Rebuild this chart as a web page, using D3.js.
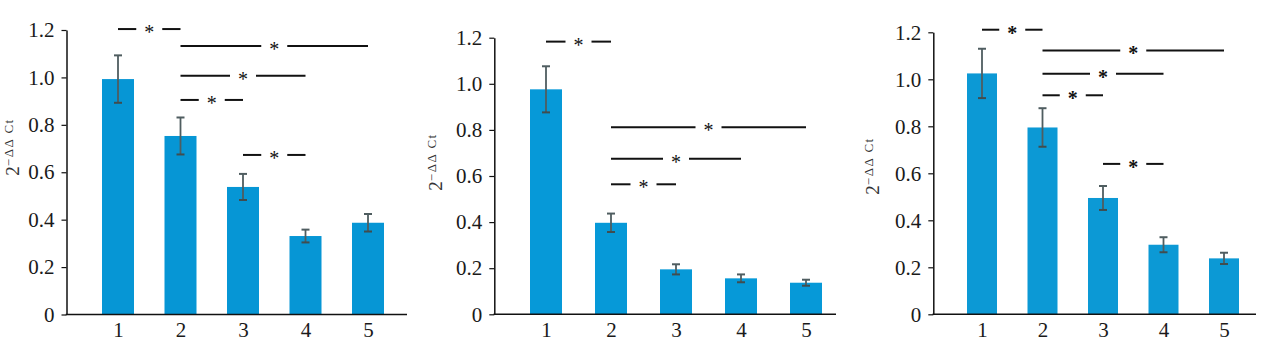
<!DOCTYPE html>
<html>
<head>
<meta charset="utf-8">
<script src="https://cdn.jsdelivr.net/npm/d3@7/dist/d3.min.js"></script>
<style>
  html, body { margin: 0; padding: 0; background: #fff; }
  svg { display: block; }
</style>
</head>
<body>
<svg id="chart" width="1279" height="354"></svg>
<script>
// ---------- data ----------
const categories = ["1", "2", "3", "4", "5"];
const yTicks = [0, 0.2, 0.4, 0.6, 0.8, 1.0, 1.2];
const yTickLabels = ["0", "0.2", "0.4", "0.6", "0.8", "1.0", "1.2"];

const valuesA = [0.993, 0.753, 0.538, 0.331, 0.387];
const errorsA = [0.100, 0.078, 0.055, 0.027, 0.037];
const valuesB = [0.976, 0.397, 0.195, 0.156, 0.137];
const errorsB = [0.100, 0.040, 0.022, 0.017, 0.013];
const valuesC = [1.025, 0.795, 0.495, 0.296, 0.238];
const errorsC = [0.105, 0.082, 0.051, 0.032, 0.024];

// significance brackets: [from index, to index, height]
const sigA = [[0, 1, 1.204], [1, 4, 1.132], [1, 3, 1.007], [1, 2, 0.905], [2, 3, 0.673]];
const sigB = [[0, 1, 1.183], [1, 4, 0.811], [1, 3, 0.675], [1, 2, 0.564]];
const sigC = [[0, 1, 1.211], [1, 4, 1.123], [1, 3, 1.024], [1, 2, 0.932], [2, 3, 0.640]];

// ---------- layout ----------
const panels = [
  { values: valuesA, errors: errorsA, sig: sigA,
    axisX: 66.5, yTop: 30, yBot: 314.5, xEnd: 407, c1: 118, c5: 368, bw: 32,
    titleX: 19, titleY: 147, color: "#0696d5", starBold: false },
  { values: valuesB, errors: errorsB, sig: sigB,
    axisX: 494.3, yTop: 37.7, yBot: 314.3, xEnd: 836, c1: 546, c5: 806, bw: 32,
    titleX: 442, titleY: 162, color: "#0699d8", starBold: false },
  { values: valuesC, errors: errorsC, sig: sigC,
    axisX: 933.3, yTop: 32.3, yBot: 314.3, xEnd: 1256, c1: 982, c5: 1224, bw: 30,
    titleX: 879, titleY: 166, color: "#0c99d5", starBold: true }
];

const svg = d3.select("#chart");
const serif = "'Liberation Serif', 'Times New Roman', 'DejaVu Serif', serif";

panels.forEach(p => {
  const g = svg.append("g");
  const x = d3.scalePoint().domain(categories).range([p.c1, p.c5]);
  const y = d3.scaleLinear().domain([0, 1.2]).range([p.yBot, p.yTop]);

  // bars
  g.selectAll("rect.bar").data(p.values).join("rect")
    .attr("class", "bar")
    .attr("x", (d, i) => x(categories[i]) - p.bw / 2)
    .attr("width", p.bw)
    .attr("y", d => y(d))
    .attr("height", d => y(0) - y(d))
    .attr("fill", p.color);

  // error bars
  const eb = g.selectAll("g.err").data(p.values).join("g").attr("class", "err");
  eb.append("line")
    .attr("x1", (d, i) => x(categories[i])).attr("x2", (d, i) => x(categories[i]))
    .attr("y1", (d, i) => y(d + p.errors[i])).attr("y2", (d, i) => y(d - p.errors[i]))
    .attr("stroke", "#4f5d60").attr("stroke-width", 1.8);
  eb.append("line")
    .attr("x1", (d, i) => x(categories[i]) - 4).attr("x2", (d, i) => x(categories[i]) + 4)
    .attr("y1", (d, i) => y(d + p.errors[i])).attr("y2", (d, i) => y(d + p.errors[i]))
    .attr("stroke", "#4f5d60").attr("stroke-width", 2);
  eb.append("line")
    .attr("x1", (d, i) => x(categories[i]) - 4).attr("x2", (d, i) => x(categories[i]) + 4)
    .attr("y1", (d, i) => y(d - p.errors[i])).attr("y2", (d, i) => y(d - p.errors[i]))
    .attr("stroke", "#3f4d50").attr("stroke-width", 2);

  // y axis
  const yAxis = d3.axisLeft(y)
    .tickValues(yTicks)
    .tickFormat((d, i) => yTickLabels[i])
    .tickSize(5).tickSizeOuter(0).tickPadding(7);
  const ya = g.append("g").attr("transform", `translate(${p.axisX},0)`).call(yAxis);
  ya.select(".domain").attr("stroke", "#111").attr("stroke-width", 1.5);
  ya.selectAll(".tick line").attr("stroke", "#111").attr("stroke-width", 1.2);
  ya.selectAll(".tick text").attr("font-family", serif).attr("font-size", 21).attr("fill", "#1a1a1a");

  // x axis
  g.append("line")
    .attr("x1", p.axisX - 0.75).attr("x2", p.xEnd)
    .attr("y1", y(0)).attr("y2", y(0))
    .attr("stroke", "#111").attr("stroke-width", 1.5);
  const xAxis = d3.axisBottom(x).tickSize(0).tickPadding(8);
  const xa = g.append("g").attr("transform", `translate(0,${y(0)})`).call(xAxis);
  xa.select(".domain").remove();
  xa.selectAll(".tick text").attr("font-family", serif).attr("font-size", 21).attr("fill", "#1a1a1a");

  // y title
  const t = g.append("text")
    .attr("transform", `translate(${p.titleX},${p.titleY}) rotate(-90)`)
    .attr("text-anchor", "middle")
    .attr("font-family", serif)
    .attr("fill", "#333");
  t.append("tspan").attr("font-size", 19).text("2");
  t.append("tspan").attr("font-size", 13).attr("dy", -6).attr("letter-spacing", 1.5).text("−ΔΔ Ct");

  // significance brackets
  const gap = 13;
  p.sig.forEach(s => {
    const xa1 = x(categories[s[0]]), xb = x(categories[s[1]]);
    const yy = y(s[2]);
    const mid = (xa1 + xb) / 2;
    g.append("line").attr("x1", xa1).attr("x2", mid - gap).attr("y1", yy).attr("y2", yy)
      .attr("stroke", "#111").attr("stroke-width", 2);
    g.append("line").attr("x1", mid + gap).attr("x2", xb).attr("y1", yy).attr("y2", yy)
      .attr("stroke", "#111").attr("stroke-width", 2);
    g.append("text").attr("x", mid).attr("y", yy + 10)
      .attr("text-anchor", "middle")
      .attr("font-family", serif)
      .attr("font-size", 20)
      .attr("font-weight", p.starBold ? "bold" : "normal")
      .attr("fill", "#111")
      .text("*");
  });
});
</script>
</body>
</html>
